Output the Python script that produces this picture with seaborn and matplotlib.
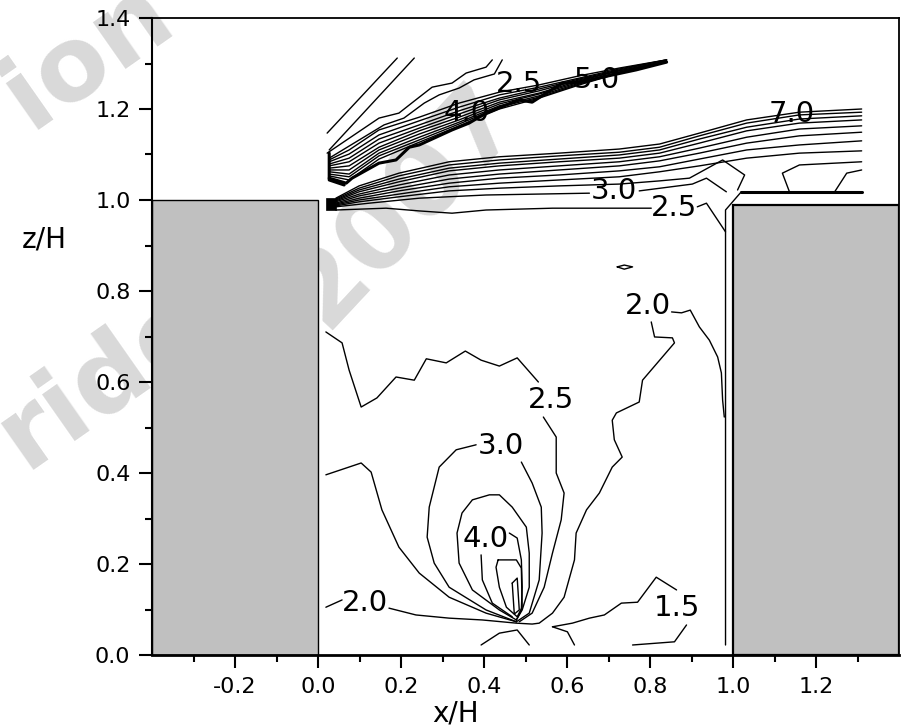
import numpy as np
import pandas as pd
import matplotlib
matplotlib.use("Agg")
import matplotlib.pyplot as plt
from matplotlib.patches import Rectangle
import seaborn as sns

sns.set_theme(style="ticks")
plt.rcParams["font.family"] = ["DejaVu Sans"]

# ---------------- axis ranges / ticks ----------------
X_LIM = (-0.4, 1.4)
Z_LIM = (0.0, 1.4)
x_major = [-0.2, 0.0, 0.2, 0.4, 0.6, 0.8, 1.0, 1.2]
x_minor = [-0.3, -0.1, 0.1, 0.3, 0.5, 0.7, 0.9, 1.1, 1.3]
z_major = [0.0, 0.2, 0.4, 0.6, 0.8, 1.0, 1.2, 1.4]
z_minor = [0.1, 0.3, 0.5, 0.7, 0.9, 1.1, 1.3]

# ---------------- buildings (x0, x1, height) ----------------
bld_left = [-0.4, 0.0, 1.0]
bld_right = [1.0, 1.4, 0.99]

# ---------------- upper shear layer (above roof) ----------------
ua_x = [0.022, 0.191]
ua_z = [1.147, 1.312]
ub_x = [0.027, 0.232]
ub_z = [1.110, 1.312]
uz1_x = [0.022, 0.147, 0.195, 0.244, 0.275, 0.323, 0.357, 0.405, 0.420]
uz1_z = [1.103, 1.180, 1.191, 1.226, 1.248, 1.257, 1.279, 1.292, 1.308]
uz2_x = [0.027, 0.159, 0.207, 0.256, 0.292, 0.340, 0.376, 0.425, 0.444]
uz2_z = [1.092, 1.165, 1.180, 1.213, 1.231, 1.246, 1.264, 1.277, 1.308]

ug_x = [0.027, 0.075, 0.147, 0.244, 0.340, 0.437, 0.533, 0.630, 0.726, 0.840]
u1_z = [1.088, 1.110, 1.154, 1.182, 1.213, 1.237, 1.253, 1.273, 1.290, 1.308]
u2_z = [1.084, 1.101, 1.143, 1.174, 1.204, 1.231, 1.248, 1.268, 1.288, 1.308]
u3_z = [1.079, 1.092, 1.134, 1.165, 1.196, 1.224, 1.244, 1.266, 1.286, 1.308]
u4_z = [1.075, 1.084, 1.125, 1.158, 1.189, 1.220, 1.240, 1.264, 1.284, 1.305]
u5_z = [1.070, 1.075, 1.116, 1.152, 1.182, 1.215, 1.235, 1.262, 1.284, 1.305]
u6_z = [1.066, 1.066, 1.110, 1.145, 1.176, 1.211, 1.233, 1.259, 1.281, 1.305]
u7_z = [1.062, 1.057, 1.103, 1.138, 1.171, 1.207, 1.229, 1.257, 1.281, 1.305]
u8_z = [1.057, 1.051, 1.097, 1.132, 1.167, 1.204, 1.226, 1.255, 1.279, 1.303]
u9_z = [1.053, 1.044, 1.090, 1.127, 1.163, 1.200, 1.224, 1.253, 1.279, 1.303]
u10_x = [0.027, 0.068, 0.082, 0.147, 0.188, 0.220, 0.244, 0.323, 0.364, 0.405,
         0.454, 0.485, 0.516, 0.550, 0.589, 0.630, 0.685, 0.767, 0.840]
u10_z = [1.048, 1.037, 1.048, 1.081, 1.088, 1.116, 1.121, 1.154, 1.169, 1.191,
         1.209, 1.220, 1.215, 1.235, 1.257, 1.259, 1.270, 1.286, 1.303]
utip_x = [0.027, 0.027, 0.063]
utip_z = [1.103, 1.044, 1.033]

# ---------------- lower shear layer (roof level) ----------------
lg_x = [0.043, 0.099, 0.195, 0.316, 0.437, 0.581, 0.726, 0.823, 0.919, 1.033, 1.160, 1.310]
t1_z = [1.004, 1.031, 1.059, 1.084, 1.095, 1.103, 1.112, 1.123, 1.147, 1.176, 1.193, 1.200]
t2_z = [1.002, 1.026, 1.053, 1.077, 1.088, 1.097, 1.105, 1.116, 1.141, 1.169, 1.187, 1.193]
t3_z = [1.000, 1.022, 1.046, 1.070, 1.081, 1.090, 1.099, 1.110, 1.134, 1.160, 1.178, 1.185]
t4_z = [0.998, 1.018, 1.040, 1.064, 1.075, 1.084, 1.092, 1.103, 1.125, 1.152, 1.169, 1.176]
t5_z = [0.996, 1.013, 1.033, 1.055, 1.066, 1.075, 1.084, 1.095, 1.114, 1.138, 1.156, 1.163]
t6_z = [0.993, 1.009, 1.026, 1.046, 1.057, 1.066, 1.075, 1.086, 1.103, 1.125, 1.141, 1.149]
t7_z = [0.991, 1.004, 1.020, 1.037, 1.048, 1.055, 1.064, 1.073, 1.090, 1.110, 1.121, 1.130]
t8_z = [0.989, 1.000, 1.013, 1.029, 1.037, 1.044, 1.051, 1.062, 1.075, 1.092, 1.103, 1.108]
t9_x = [0.043, 0.099, 0.195, 0.316, 0.437, 0.581, 0.726, 0.823, 0.895, 0.975, 1.028, 1.011]
t9_z = [0.987, 0.996, 1.007, 1.020, 1.026, 1.031, 1.035, 1.042, 1.048, 1.088, 1.055, 1.022]
r9_x = [1.310, 1.160, 1.119, 1.136]
r9_z = [1.084, 1.077, 1.059, 1.018]
r10_x = [1.310, 1.274, 1.245]
r10_z = [1.066, 1.059, 1.018]
c30a_x = [0.043, 0.123, 0.244, 0.405, 0.654]
c30a_z = [0.985, 0.993, 1.004, 1.011, 1.015]
c30b_x = [0.774, 0.902, 0.936, 0.984]
c30b_z = [1.020, 1.035, 1.048, 1.018]
c25a_x = [0.043, 0.164, 0.244, 0.323, 0.405, 0.565, 0.803]
c25a_z = [0.978, 0.982, 0.976, 0.971, 0.978, 0.982, 0.982]
c25b_x = [0.914, 0.936, 0.982]
c25b_z = [0.985, 0.993, 0.930]
roof_block = [0.019, 0.043, 0.978, 1.004]   # x0, x1, z0, z1
wall_v_x = [0.982, 0.982, 1.020]
wall_v_z = [0.022, 0.978, 1.018]
wall_h_x = [1.020, 1.312]
wall_h_z = [1.018, 1.018]

# ---------------- cavity contours ----------------
k25u_x = [0.019, 0.058, 0.075, 0.104, 0.142, 0.188, 0.232, 0.261, 0.309, 0.355, 0.393, 0.437, 0.480, 0.531]
k25u_z = [0.710, 0.686, 0.626, 0.545, 0.565, 0.611, 0.604, 0.651, 0.642, 0.668, 0.648, 0.635, 0.653, 0.600]
k25d_x = [0.543, 0.574, 0.574, 0.593, 0.586, 0.565, 0.545, 0.516, 0.485]
k25d_z = [0.523, 0.479, 0.400, 0.356, 0.297, 0.224, 0.149, 0.092, 0.073]
k20r_x = [0.852, 0.876, 0.897, 0.919, 0.943, 0.963, 0.972, 0.975, 0.979]
k20r_z = [0.754, 0.752, 0.758, 0.721, 0.692, 0.655, 0.620, 0.560, 0.523]
k20m_x = [0.803, 0.811, 0.854, 0.859, 0.782, 0.774, 0.719, 0.709, 0.714, 0.733, 0.709, 0.678,
          0.647, 0.622, 0.618, 0.593, 0.565, 0.533, 0.516, 0.478, 0.396, 0.316, 0.236, 0.171]
k20m_z = [0.732, 0.699, 0.697, 0.686, 0.604, 0.556, 0.532, 0.516, 0.473, 0.435, 0.413, 0.356,
          0.319, 0.268, 0.209, 0.127, 0.092, 0.070, 0.068, 0.070, 0.077, 0.081, 0.088, 0.103]
k20l_x = [0.019, 0.058]
k20l_z = [0.105, 0.121]
k25l_x = [0.019, 0.104, 0.128, 0.154, 0.195, 0.244, 0.316, 0.405, 0.478]
k25l_z = [0.396, 0.422, 0.402, 0.319, 0.237, 0.180, 0.127, 0.092, 0.073]
k30l_x = [0.381, 0.333, 0.292, 0.268, 0.263, 0.280, 0.316, 0.405, 0.478]
k30l_z = [0.462, 0.451, 0.413, 0.325, 0.259, 0.202, 0.149, 0.099, 0.073]
k30r_x = [0.490, 0.516, 0.538, 0.540, 0.533, 0.509, 0.478]
k30r_z = [0.424, 0.378, 0.325, 0.268, 0.165, 0.092, 0.073]
k35_x = [0.478, 0.437, 0.372, 0.340, 0.335, 0.347, 0.372, 0.413, 0.437, 0.468, 0.502, 0.509, 0.509, 0.492, 0.478]
k35_z = [0.077, 0.099, 0.143, 0.202, 0.268, 0.312, 0.341, 0.352, 0.352, 0.325, 0.281, 0.224, 0.149, 0.099, 0.077]
k40l_x = [0.393, 0.396, 0.420, 0.468]
k40l_z = [0.220, 0.165, 0.114, 0.084]
k40r_x = [0.461, 0.480, 0.490, 0.492, 0.490, 0.478]
k40r_z = [0.268, 0.257, 0.209, 0.149, 0.099, 0.077]
k45_x = [0.434, 0.478, 0.490, 0.492, 0.480, 0.454, 0.437, 0.429, 0.434]
k45_z = [0.209, 0.209, 0.191, 0.105, 0.084, 0.105, 0.149, 0.193, 0.209]
k50_x = [0.468, 0.480, 0.485, 0.473, 0.468]
k50_z = [0.158, 0.169, 0.099, 0.090, 0.158]
s1_x = [0.393, 0.437, 0.480, 0.509]
s1_z = [0.022, 0.048, 0.055, 0.022]
s2_x = [0.565, 0.601, 0.618]
s2_z = [0.062, 0.051, 0.022]
k15a_x = [0.565, 0.613, 0.654, 0.690, 0.731, 0.770, 0.815, 0.864]
k15a_z = [0.062, 0.070, 0.081, 0.088, 0.114, 0.116, 0.171, 0.143]
k15b_x = [0.888, 0.859, 0.758]
k15b_z = [0.066, 0.029, 0.022]
blob_x = [0.721, 0.738, 0.758, 0.738, 0.721]
blob_z = [0.853, 0.857, 0.853, 0.848, 0.853]

# ---------------- contour labels ----------------
lab_text = ["4.0", "2.5", "5.0", "7.0", "3.0", "2.5", "2.0", "2.5", "3.0", "4.0", "2.0", "1.5"]
lab_x = [0.357, 0.485, 0.671, 1.141, 0.712, 0.859, 0.794, 0.562, 0.441, 0.403, 0.113, 0.864]
lab_z = [1.191, 1.255, 1.264, 1.189, 1.020, 0.982, 0.767, 0.560, 0.459, 0.255, 0.114, 0.103]

# ---------------- assemble long-form table ----------------
thin_lines = [
    ("ua", ua_x, ua_z), ("ub", ub_x, ub_z), ("uz1", uz1_x, uz1_z), ("uz2", uz2_x, uz2_z),
    ("u1", ug_x, u1_z), ("u2", ug_x, u2_z), ("u3", ug_x, u3_z), ("u4", ug_x, u4_z),
    ("u5", ug_x, u5_z), ("u6", ug_x, u6_z), ("u7", ug_x, u7_z), ("u8", ug_x, u8_z),
    ("u9", ug_x, u9_z),
    ("t1", lg_x, t1_z), ("t2", lg_x, t2_z), ("t3", lg_x, t3_z), ("t4", lg_x, t4_z),
    ("t5", lg_x, t5_z), ("t6", lg_x, t6_z), ("t7", lg_x, t7_z), ("t8", lg_x, t8_z),
    ("t9", t9_x, t9_z), ("r9", r9_x, r9_z), ("r10", r10_x, r10_z),
    ("c30a", c30a_x, c30a_z), ("c30b", c30b_x, c30b_z),
    ("c25a", c25a_x, c25a_z), ("c25b", c25b_x, c25b_z),
    ("k25u", k25u_x, k25u_z), ("k25d", k25d_x, k25d_z), ("k20r", k20r_x, k20r_z),
    ("k20m", k20m_x, k20m_z), ("k20l", k20l_x, k20l_z), ("k25l", k25l_x, k25l_z),
    ("k30l", k30l_x, k30l_z), ("k30r", k30r_x, k30r_z), ("k35", k35_x, k35_z),
    ("k40l", k40l_x, k40l_z), ("k40r", k40r_x, k40r_z), ("k45", k45_x, k45_z),
    ("k50", k50_x, k50_z), ("s1", s1_x, s1_z), ("s2", s2_x, s2_z),
    ("k15a", k15a_x, k15a_z), ("k15b", k15b_x, k15b_z), ("blob", blob_x, blob_z),
    ("wallv", wall_v_x, wall_v_z),
]
thick_lines = [("u10", u10_x, u10_z), ("utip", utip_x, utip_z), ("wallh", wall_h_x, wall_h_z)]


def to_frame(lines):
    rows = []
    for name, xs, zs in lines:
        for i, (xv, zv) in enumerate(zip(xs, zs)):
            rows.append({"line": name, "order": i, "x": xv, "z": zv})
    return pd.DataFrame(rows)


df_thin = to_frame(thin_lines)
df_thick = to_frame(thick_lines)

# ---------------- figure ----------------
W, H = 903, 727
fig = plt.figure(figsize=(W / 100, H / 100), dpi=100)
fig.patch.set_facecolor("white")
ax = fig.add_axes([152 / W, 72 / H, 747 / W, 637 / H])
ax.patch.set_alpha(0.0)

# faint watermark behind the axes
wm = dict(fontsize=75, fontweight="bold", color="#d9d9d9", ha="left", va="baseline",
          rotation_mode="anchor", zorder=-5, family="DejaVu Sans")
fig.text(30 / W, 1 - 130 / H, "ion", rotation=35, **wm)
fig.text(25 / W, 1 - 470 / H, "rido", rotation=35, **wm)
fig.text(325 / W, 1 - 330 / H, "2007", rotation=47, **wm)

# buildings
ax.add_patch(Rectangle((bld_left[0], 0), bld_left[1] - bld_left[0], bld_left[2],
                       facecolor="#c0c0c0", edgecolor="black", lw=1.0, zorder=2))
ax.add_patch(Rectangle((bld_right[0], 0), bld_right[1] - bld_right[0], bld_right[2],
                       facecolor="#c0c0c0", edgecolor="black", lw=1.6, zorder=2))
ax.add_patch(Rectangle((roof_block[0], roof_block[2]), roof_block[1] - roof_block[0],
                       roof_block[3] - roof_block[2], facecolor="black", edgecolor="black",
                       lw=0.5, zorder=3))

sns.lineplot(data=df_thin, x="x", y="z", units="line", estimator=None, sort=False,
             color="black", lw=1.0, ax=ax, legend=False, zorder=3)
sns.lineplot(data=df_thick, x="x", y="z", units="line", estimator=None, sort=False,
             color="black", lw=2.2, ax=ax, legend=False, zorder=3)

for t, xv, zv in zip(lab_text, lab_x, lab_z):
    ax.text(xv, zv, t, fontsize=21, ha="center", va="center", color="black", zorder=4)

ax.set_xlim(*X_LIM)
ax.set_ylim(*Z_LIM)
ax.set_xticks(x_major)
ax.set_xticks(x_minor, minor=True)
ax.set_yticks(z_major)
ax.set_yticks(z_minor, minor=True)
ax.set_xticklabels([f"{v:.1f}" for v in x_major])
ax.set_yticklabels([f"{v:.1f}" for v in z_major])
ax.tick_params(which="major", direction="out", length=9.5, width=1.5, labelsize=16,
               pad=6, color="black", labelcolor="black")
ax.tick_params(which="minor", direction="out", length=5, width=1.5, color="black")
ax.tick_params(top=False, right=False, which="both")

for side, w in [("left", 1.5), ("bottom", 2.0), ("top", 1.3), ("right", 1.3)]:
    ax.spines[side].set_visible(True)
    ax.spines[side].set_linewidth(w)
    ax.spines[side].set_color("black")

ax.set_xlabel("x/H", fontsize=20, color="black")
ax.set_ylabel("z/H", fontsize=20, color="black", rotation=0)
ax.xaxis.set_label_coords((456 - 152) / 747, (655 - 714) / 637)
ax.yaxis.set_label_coords((44 - 152) / 747, (655 - 240) / 637)
ax.xaxis.label.set_va("center")
ax.yaxis.label.set_va("center")
ax.yaxis.label.set_ha("center")
ax.xaxis.label.set_ha("center")

fig.savefig("out.png", dpi=100, facecolor="white")
